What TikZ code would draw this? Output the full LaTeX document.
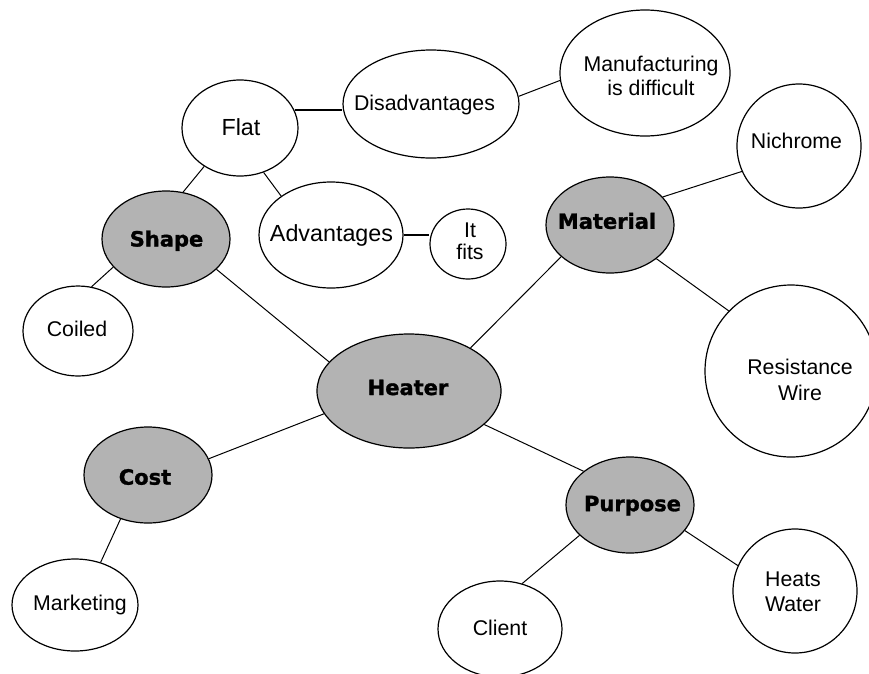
\documentclass[tikz,border=0pt]{standalone}
\usepackage{fontspec}
\setmainfont{Liberation Sans}
\newfontfamily\heavyfont{DejaVu Sans}[BoldFeatures={FakeBold=1.3}]
\usetikzlibrary{shapes.geometric}
\definecolor{hubgray}{RGB}{179,179,179}
\tikzset{
  bubble/.style={ellipse, draw=black, line width=1.2pt, fill=white, inner sep=0pt},
  hub/.style={bubble, fill=hubgray},
  conn/.style={line width=1pt, draw=black},
  thickconn/.style={line width=1.8pt, draw=black},
  txt/.style={align=center, inner sep=0pt, font=\fontsize{21.3}{24}\selectfont},
  bigtxt/.style={align=center, inner sep=0pt, font=\fontsize{23.3}{26}\selectfont},
  boldtxt/.style={align=center, inner sep=0pt, font=\heavyfont\bfseries\fontsize{21}{24}\selectfont}
}
\begin{document}
\begin{tikzpicture}[x=1pt,y=-1pt]
\useasboundingbox (0,0) rectangle (869,673);
\clip (0,0) rectangle (869,673);

% outer nodes
\node[bubble, minimum width=116pt, minimum height=96pt,
  label={[bigtxt, shift={(1,-1)}]center:Flat}] (flat) at (240,128) {};
\node[bubble, minimum width=176pt, minimum height=108pt,
  label={[txt, shift={(-6.5,0.5)}]center:Disadvantages}] (disadv) at (431,104) {};
\node[bubble, minimum width=170pt, minimum height=126pt,
  label={[txt, font=\fontsize{21.3}{23.3}\selectfont, shift={(6,3)}]center:Manufacturing\\is difficult}] (manuf) at (645,73) {};
\node[bubble, minimum width=124pt, minimum height=124pt,
  label={[txt, shift={(-2.5,-5)}]center:Nichrome}] (nichrome) at (799,146) {};
\node[bubble, minimum width=76pt, minimum height=70pt,
  label={[txt, font=\fontsize{21.3}{22}\selectfont, shift={(2,-2.5)}]center:It\\fits}] (itfits) at (468,244) {};
\node[bubble, minimum width=144pt, minimum height=106pt,
  label={[bigtxt, shift={(0.5,0)}]center:Advantages}] (adv) at (331,235) {};
\node[bubble, minimum width=110pt, minimum height=90pt,
  label={[txt, shift={(-1,-2.5)}]center:Coiled}] (coiled) at (78,331) {};
\node[bubble, minimum width=172pt, minimum height=172pt,
  label={[txt, font=\fontsize{21.3}{26}\selectfont, shift={(9,8.5)}]center:Resistance\\Wire}] (rw) at (791,371) {};
\node[bubble, minimum width=126pt, minimum height=92pt,
  label={[txt, shift={(5,0)}]center:Marketing}] (marketing) at (75,605) {};
\node[bubble, minimum width=124pt, minimum height=124pt,
  label={[txt, font=\fontsize{21.3}{25}\selectfont, shift={(-2,1)}]center:Heats\\Water}] (hw) at (795,591) {};
\node[bubble, minimum width=124pt, minimum height=96pt,
  label={[txt, shift={(0,-0.7)}]center:Client}] (client) at (500,629) {};

% hub nodes
\node[hub, minimum width=128pt, minimum height=96pt,
  label={[boldtxt, shift={(0.5,1.7)}]center:Shape}] (shape) at (166,239) {};
\node[hub, minimum width=128pt, minimum height=96pt,
  label={[boldtxt, shift={(-3,-4)}]center:Material}] (material) at (610,225) {};
\node[hub, minimum width=184pt, minimum height=114pt,
  label={[boldtxt, shift={(-1,-3.5)}]center:Heater}] (heater) at (409,391) {};
\node[hub, minimum width=128pt, minimum height=96pt,
  label={[boldtxt, shift={(-3,2)}]center:Cost}] (cost) at (148,475) {};
\node[hub, minimum width=128pt, minimum height=96pt,
  label={[boldtxt, shift={(2.5,0.7)}]center:Purpose}] (purpose) at (630,505) {};

% connectors
\draw[conn] (flat.-133.5) -- (shape.70);
\draw[conn] (flat.-62.4) -- (adv.142.9);
\draw[thickconn] (flat.18.4) -- (flat.18.4 -| disadv.west);
\draw[conn] (disadv.5.2) -- (manuf.-175.2);
\draw[thickconn] (adv.east) -- (adv.east -| itfits.west);
\draw[conn] (shape.-152) -- (coiled.73.5);
\draw[conn] (shape.-31.6) -- (heater.160.1);
\draw[conn] (heater.35.4) -- (material.-147.7);
\draw[conn] (material.28.7) -- (nichrome.-156.3);
\draw[conn] (material.-36.7) -- (rw.136.9);
\draw[conn] (heater.-165.8) -- (cost.15.6);
\draw[conn] (cost.-122.8) -- (marketing.59.7);
\draw[conn] (heater.-24.1) -- (purpose.144.9);
\draw[conn] (purpose.-149.2) -- (client.64.9);
\draw[conn] (purpose.-25.7) -- (hw.156.3);
\end{tikzpicture}
\end{document}
